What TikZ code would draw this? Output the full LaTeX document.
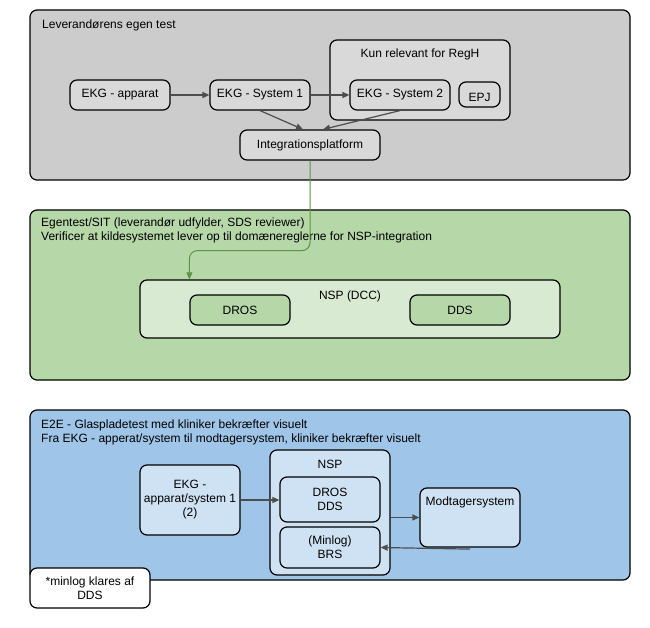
\documentclass[tikz,border=0pt]{standalone}
\usepackage{fontspec}
\setmainfont{Liberation Sans}
\usetikzlibrary{arrows.meta}
\definecolor{grayzone}{HTML}{CCCCCC}
\definecolor{graybox}{HTML}{D9D9D9}
\definecolor{greenzone}{HTML}{B6D7A8}
\definecolor{greenlight}{HTML}{D9EAD3}
\definecolor{bluezone}{HTML}{9FC5E8}
\definecolor{bluebox}{HTML}{CFE2F3}
\definecolor{flowgray}{HTML}{4D4D4D}
\definecolor{flowgreen}{HTML}{5E9441}
\begin{document}
\begin{tikzpicture}[x=1pt, y=-1pt,
    font=\fontsize{12}{14}\selectfont,
    zone/.style={draw, line width=1.2pt, rounded corners=7pt},
    box/.style={draw, line width=1.2pt, rounded corners=7pt, align=center, inner sep=2pt},
    title/.style={inner sep=0pt, align=left},
    flow/.style={-{Triangle[length=7pt,width=6pt]}, line width=1.2pt, draw=flowgray},
]
    \useasboundingbox (0,0) rectangle (650,628);

    % Leverandørens egen test
    \node[zone, fill=grayzone, minimum width=600, minimum height=170] (levzone) at (330,95) {};
    \node[title, anchor=base west] (levtitle) at (42,28.5) {Leverandørens egen test};
    \node[box, fill=graybox, minimum width=180, minimum height=80,
        label={[anchor=north, yshift=-6pt]north:Kun relevant for RegH}] (regh) at (420,80) {};
    \node[box, fill=graybox, minimum width=100, minimum height=30] (app) at (120,95) {EKG - apparat};
    \node[box, fill=graybox, minimum width=100, minimum height=30] (sys1) at (260,95) {EKG - System 1};
    \node[box, fill=graybox, minimum width=100, minimum height=30] (sys2) at (400,95) {EKG - System 2};
    \node[box, fill=graybox, minimum width=41, minimum height=25,
        label={[yshift=-3pt]center:EPJ}] (epj) at (479.5,94.5) {};
    \node[box, fill=graybox, minimum width=140, minimum height=30] (integ) at (310,145) {Integrationsplatform};

    \draw[flow] (app) -- (sys1);
    \draw[flow] (sys1) -- (sys2);
    \draw[flow] (sys1.south) -- ([xshift=-7pt]integ.north);
    \draw[flow] (sys2.south) -- ([xshift=13pt]integ.north);

    % Egentest/SIT
    \node[zone, fill=greenzone, minimum width=600, minimum height=170] (sitzone) at (330,295) {};
    \node[title, anchor=north west] (sittitle) at (41,218)
        {Egentest/SIT (leverandør udfylder, SDS reviewer)\\Verificer at kildesystemet lever op til domænereglerne for NSP-integration};
    \node[box, fill=greenlight, minimum width=420, minimum height=58,
        label={[anchor=north, yshift=-8pt]north:NSP (DCC)}] (nspdcc) at (350,309) {};
    \node[box, fill=greenzone, minimum width=100, minimum height=30] (dros) at (240,310) {DROS};
    \node[box, fill=greenzone, minimum width=100, minimum height=30] (dds) at (460,310) {DDS};

    \draw[flow, draw=flowgreen, line width=1pt, rounded corners=8pt] (integ.south) -- ++(0,90) -| (dros.west |- nspdcc.north);

    % E2E
    \node[zone, fill=bluezone, minimum width=600, minimum height=170] (e2ezone) at (330,495) {};
    \node[title, anchor=north west] (e2etitle) at (41,420)
        {E2E - Glaspladetest med kliniker bekræfter visuelt\\Fra EKG - apperat/system til modtagersystem, kliniker bekræfter visuelt};
    \node[box, fill=bluebox, minimum width=100, minimum height=70] (ekgsys) at (190,500) {EKG -\\apparat/system 1\\(2)};
    \node[box, fill=bluebox, minimum width=120, minimum height=125,
        label={[anchor=north, yshift=-7pt]north:NSP}] (nsp) at (330,512.5) {};
    \node[box, fill=bluebox, minimum width=100, minimum height=45] (drosdds) at (330,499.5) {DROS\\DDS};
    \node[box, fill=bluebox, minimum width=100, minimum height=41] (brs) at (330,547.5) {(Minlog)\\BRS};
    \node[box, fill=bluebox, minimum width=100, minimum height=59,
        label={[anchor=north, yshift=-6pt]north:Modtagersystem}] (mod) at (470,517.5) {};

    \draw[flow] (ekgsys) -- (ekgsys -| drosdds.west);
    \draw[flow] (nsp.east |- mod.west) -- (mod.west);
    \draw[flow] ([yshift=-1.5pt]mod.south) -- (brs.east);

    % note
    \node[box, fill=white, minimum width=120, minimum height=40] (note) at (90,588) {*minlog klares af\\DDS};
\end{tikzpicture}
\end{document}
